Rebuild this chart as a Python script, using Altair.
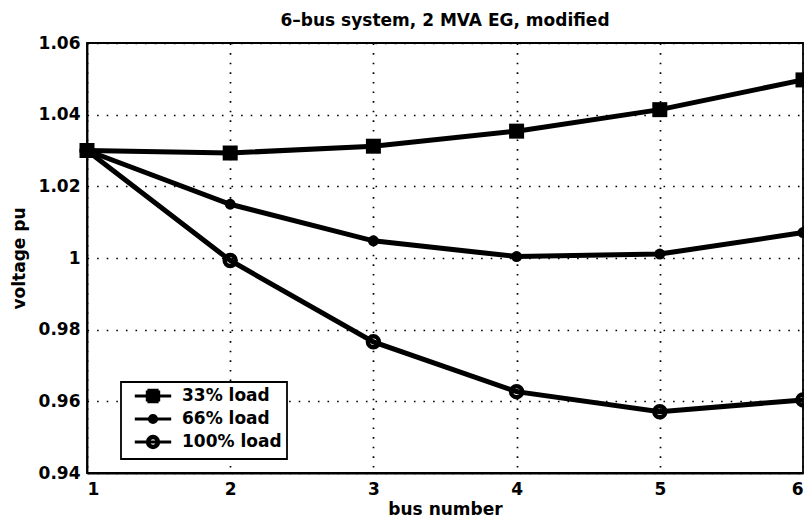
import altair as alt
import pandas as pd

# ---- data ----
bus = [1, 2, 3, 4, 5, 6]
v33 = [1.0300, 1.0293, 1.0312, 1.0354, 1.0414, 1.0497]
v66 = [1.0300, 1.0150, 1.0048, 1.0004, 1.0011, 1.0071]
v100 = [1.0300, 0.9993, 0.9766, 0.9627, 0.9571, 0.9604]
series_names = ["33% load", "66% load", "100% load"]
y_ticks = [0.94, 0.96, 0.98, 1.00, 1.02, 1.04, 1.06]
title_text = "6\u2013bus system, 2 MVA EG, modified"

rows = []
for name, vals in zip(series_names, [v33, v66, v100]):
    for b, v in zip(bus, vals):
        rows.append({"bus": b, "voltage": v, "series": name})
df = pd.DataFrame(rows)

FONT = "DejaVu Sans"
FS = 17

x_enc = alt.X(
    "bus:Q",
    scale=alt.Scale(domain=[1, 6], nice=False, zero=False),
    axis=alt.Axis(
        values=bus, format="d", title="bus number",
        titleBaseline="alphabetic", titleY=41,
    ),
)
y_enc = alt.Y(
    "voltage:Q",
    scale=alt.Scale(domain=[0.94, 1.06], nice=False, zero=False),
    axis=alt.Axis(
        values=y_ticks, title="voltage pu",
        labelExpr="'' + round(datum.value*100)/100",
        titleX=-68, titleBaseline="middle",
    ),
)

lines = alt.Chart(df).mark_line(color="black", strokeWidth=5).encode(
    x=x_enc, y=y_enc, detail="series:N"
)


def ring(a):
    return "M%g,0A%g,%g,0,1,1,%g,0A%g,%g,0,1,1,%g,0Z" % (-a, a, a, a, a, a, -a)


seg = "M-2.6,0H2.6"
sq_path = (seg + "M-0.8,-0.8H0.8M-0.8,-0.4H0.8M-0.8,0.4H0.8M-0.8,0.8H0.8"
           "M-0.8,-0.8V0.8M0.8,-0.8V0.8M0,-0.8V0.8")
c66_path = seg + ring(0.5) + ring(0.2)
c100_path = seg + ring(0.8) + ring(0.62)

legend_layer = alt.Chart(df).transform_filter("false").mark_point(
    filled=False, color="black", strokeWidth=3, opacity=1
).encode(
    x=x_enc,
    y=y_enc,
    shape=alt.Shape(
        "series:N",
        scale=alt.Scale(domain=series_names, range=[sq_path, c66_path, c100_path]),
        legend=alt.Legend(
            title=None,
            orient="none",
            legendX=34,
            legendY=339,
            symbolSize=196,
            symbolStrokeWidth=3.2,
            symbolStrokeColor="black",
            symbolOpacity=1,
        ),
    ),
)

pts33 = alt.Chart(df).transform_filter("datum.series === '33% load'").mark_point(
    shape="square", filled=True, color="black", size=225, opacity=1
).encode(x=x_enc, y=y_enc)

pts66 = alt.Chart(df).transform_filter("datum.series === '66% load'").mark_point(
    shape="circle", filled=True, color="black", size=120, opacity=1
).encode(x=x_enc, y=y_enc)

pts100 = alt.Chart(df).transform_filter("datum.series === '100% load'").mark_point(
    shape="circle", filled=False, color="black", strokeWidth=4.5, size=120, opacity=1
).encode(x=x_enc, y=y_enc)

chart = (
    alt.layer(lines, pts33, pts66, pts100, legend_layer)
    .properties(
        width=716,
        height=430,
        title=alt.TitleParams(title_text, anchor="middle", offset=4),
        autosize=alt.AutoSizeParams(type="none"),
        padding={"left": 79, "top": 35, "right": 1, "bottom": 45},
    )
    .configure_view(stroke="black", strokeWidth=1.8)
    .configure_axis(
        grid=True,
        gridColor="black",
        gridDash=[1.6, 8],
        gridWidth=1.7,
        gridOpacity=1,
        domain=True,
        domainColor="black",
        domainWidth=1.8,
        ticks=False,
        labelFont=FONT,
        labelFontSize=FS,
        labelFontWeight="bold",
        labelColor="black",
        titleFont=FONT,
        titleFontSize=FS,
        titleFontWeight="bold",
        titleColor="black",
    )
    .configure_axisX(labelPadding=8)
    .configure_axisY(labelPadding=7)
    .configure_legend(
        fillColor="white",
        strokeColor="black",
        strokeWidth=1.8,
        padding=5,
        rowPadding=1,
        symbolOffset=18,
        labelOffset=20,
        labelFont=FONT,
        labelFontSize=FS,
        labelFontWeight="bold",
        labelColor="black",
    )
    .configure_title(font=FONT, fontSize=FS, fontWeight="bold", color="black")
)

chart.save("out.html", embed_options={"renderer": "svg", "actions": False})
